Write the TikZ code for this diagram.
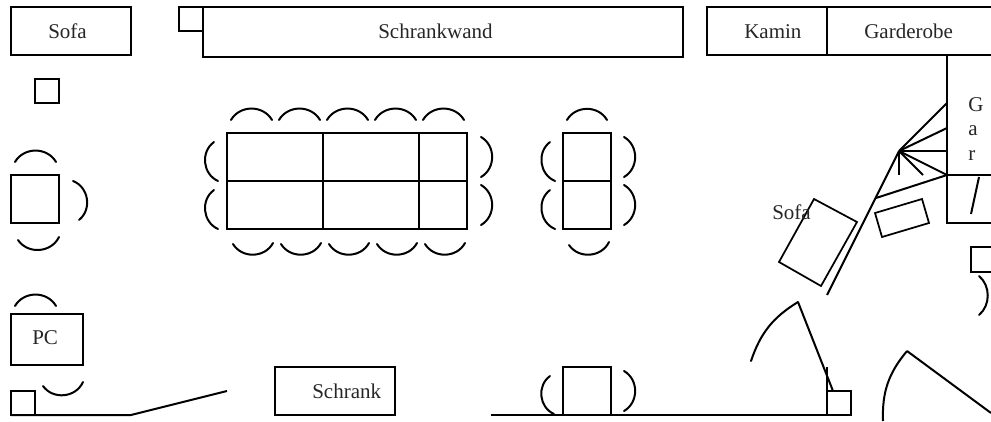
\documentclass[tikz,border=0pt]{standalone}
\usepackage{fontspec}
\setmainfont{Liberation Serif}
\tikzset{
  wall/.style={draw=black,line width=1.5pt},
  thinbox/.style={draw=black,line width=1.3pt},
  seat/.style={draw=black,line width=1.5pt,line cap=round},
  label/.style={font=\fontsize{15.75pt}{18pt}\selectfont,inner sep=0pt,anchor=base west,text=black!85},
}
\newcommand{\seatarc}[2]{\draw[seat] #1 to[bend left=60,looseness=1.1] #2;}
\begin{document}
\begin{tikzpicture}[x=0.75pt,y=-0.75pt]
\useasboundingbox (0,0) rectangle (991,421);
\clip (0,0) rectangle (991,421);
% top row
\draw[wall] (11,7) rectangle (131,55);
\node[label] (sofaA) at (48,38) {Sofa};
\draw[thinbox] (179,7) rectangle (203,31);
\draw[wall] (203,7) rectangle (683,57);
\node[label] (schrankwand) at (378,38) {Schrankwand};
\draw[wall] (707,7) rectangle (827,55);
\node[label] (kamin) at (744,38) {Kamin};
\draw[wall] (827,7) rectangle (1000,55);
\node[label] (garderobe) at (864,38) {Garderobe};
\draw[thinbox] (35,79) rectangle (59,103);
% left table
\draw[wall] (11,175) rectangle (59,223);
\seatarc{(15,162)}{(56,162)}
\seatarc{(73,181)}{(79,220)}
\seatarc{(59,237)}{(18,240)}
% PC
\draw[wall] (11,314) rectangle (83,365);
\node[label] (pc) at (32,344) {PC};
\seatarc{(15,306)}{(56,306)}
\seatarc{(83,382)}{(43,386)}
\draw[thinbox] (11,391) rectangle (35,415);
\draw[wall] (11,415) -- (131,415) -- (227,391);
% big table
\draw[wall] (227,133) rectangle (467,229);
\draw[wall] (227,181) -- (467,181);
\draw[wall] (323,133) -- (323,229);
\draw[wall] (419,133) -- (419,229);
\foreach \x in {231,279,327,375,423}{
  \seatarc{(\x,120)}{(\x+41,120)}
  \seatarc{(\x+42,243)}{(\x+2,244)}
}
\seatarc{(218,181)}{(214,142)}
\seatarc{(218,229)}{(214,190)}
\seatarc{(481,137)}{(481,177)}
\seatarc{(481,185)}{(481,225)}
% second table
\draw[wall] (563,133) rectangle (611,229);
\draw[wall] (563,181) -- (611,181);
\seatarc{(567,120)}{(607,120)}
\seatarc{(609,242)}{(569,245)}
\seatarc{(555,181)}{(550,142)}
\seatarc{(555,229)}{(550,190)}
\seatarc{(624,137)}{(624,177)}
\seatarc{(624,185)}{(624,225)}
% bottom
\draw[wall] (275,367) rectangle (395,415);
\node[label] (schrank) at (312,398) {Schrank};
\draw[wall] (563,367) rectangle (611,415);
\seatarc{(554,414)}{(550,376)}
\seatarc{(624,371)}{(624,411)}
\draw[wall] (491,415) -- (827,415);
\draw[thinbox] (827,391) rectangle (851,415);
\draw[wall] (827,367) -- (827,415);
\draw[wall] (833,391) -- (798,302);
\draw[wall,line cap=round] (798,302) to[bend right=20] (751,361);
\draw[wall] (991,413) -- (907,351);
\draw[wall] (907,351) to[bend right=21] (883,421);
% stairs
\draw[wall] (1000,55) -- (947,55) -- (947,175) -- (1000,175);
\draw[wall] (947,175) -- (947,223) -- (1000,223);
\draw[wall] (979,177) -- (971,214);
\node[label] (g1) at (968,111) {G};
\node[label] (g2) at (968,135) {a};
\node[label] (g3) at (968,160) {r};
\draw[wall] (899,151) -- (947,103);
\draw[wall] (899,151) -- (947,128);
\draw[wall] (899,151) -- (947,151);
\draw[wall] (899,151) -- (947,175);
\draw[wall] (899,151) -- (899,175);
\draw[wall] (899,151) -- (923,175);
\draw[wall] (899,151) -- (827,295);
\draw[wall] (947,175) -- (876,198);
% rotated boxes
\draw[thinbox] (875,213) -- (922,199) -- (929,223) -- (882,237) -- cycle;
\draw[thinbox] (814,199) -- (857,222) -- (821,286) -- (779,262) -- cycle;
\node[label] (sofaB) at (772,219) {Sofa};
% right
\draw[wall] (971,247) rectangle (1000,272);
\draw[seat] (979,276) to[bend left=50] (979,315);
\end{tikzpicture}
\end{document}
